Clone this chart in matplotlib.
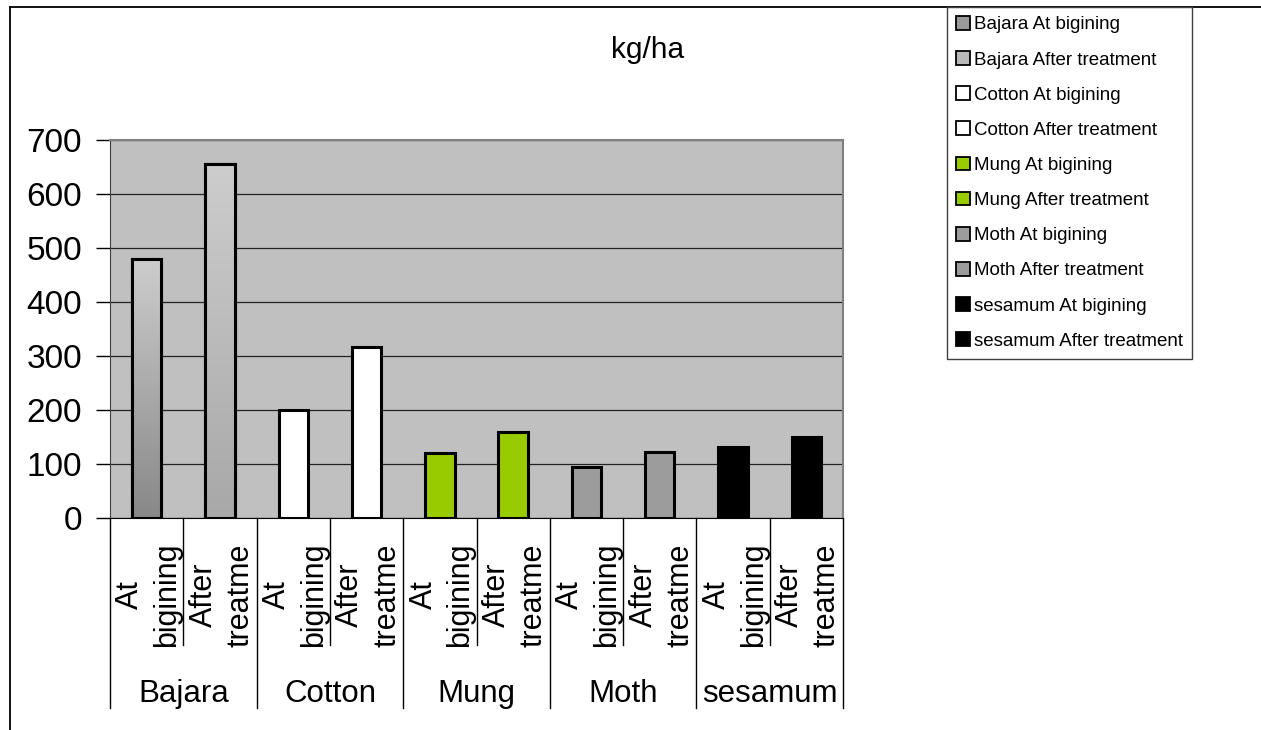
import matplotlib.pyplot as plt
import numpy as np
from matplotlib.lines import Line2D
from matplotlib.patches import Patch
from matplotlib.transforms import blended_transform_factory
from matplotlib.colors import LinearSegmentedColormap

plt.rcParams['font.family'] = ['Liberation Sans', 'DejaVu Sans']

crops = ['Bajara', 'Cotton', 'Mung', 'Moth', 'sesamum']
stages = ['At bigining', 'After treatment']
stage_ticks = ['At\nbigining', 'After\ntreatme']
values = [480, 655, 200, 317, 120, 160, 95, 122, 132, 150]
crop_colors = {'Bajara': ['#9a9a9a', '#b8b8b8'], 'Cotton': ['#ffffff', '#ffffff'],
               'Mung': ['#99cc00', '#99cc00'], 'Moth': ['#9c9c9c', '#9c9c9c'],
               'sesamum': ['#000000', '#000000']}
# vertical gradients for the Bajara bars (top colour, bottom colour)
gradients = {0: ('#cdcdcd', '#888888'), 1: ('#cdcdcd', '#a8a8a8')}

W, H = 1261, 730
fig = plt.figure(figsize=(W / 100, H / 100), dpi=100)
ax = fig.add_axes([110 / W, 1 - 518 / H, 733 / W, 378 / H])
ax.set_facecolor('#c0c0c0')

fs = 22.5
labels, colors = [], []
for c in crops:
    for s_i, s in enumerate(stages):
        labels.append(f'{c} {s}')
        colors.append(crop_colors[c][s_i])

x = np.arange(len(values))
handles = []
for i, v in enumerate(values):
    rect = ax.bar(x[i], v, width=0.4, color=colors[i], edgecolor='black',
                  linewidth=2.2, zorder=3)[0]
    if i in gradients:
        cmap = LinearSegmentedColormap.from_list('g', [gradients[i][1], gradients[i][0]])
        grad = np.linspace(0, 1, 256).reshape(-1, 1)
        im = ax.imshow(grad, extent=[x[i] - 0.2, x[i] + 0.2, 0, v], origin='lower',
                       aspect='auto', cmap=cmap, zorder=3.5)
        im.set_clip_path(rect)
        ax.bar(x[i], v, width=0.4, color='none', edgecolor='black', linewidth=2.2, zorder=4)
    handles.append(Patch(facecolor=colors[i], edgecolor='black', linewidth=1.3))

ax.set_xlim(-0.5, len(values) - 0.5)
ax.set_ylim(0, 700)
ax.set_yticks(range(0, 701, 100))
ax.set_xticks([])
ax.tick_params(axis='y', length=10, width=1, pad=10, labelsize=24, colors='black')
ax.yaxis.grid(True, color='#222222', linewidth=0.9)
ax.set_axisbelow(True)
for side in ['top', 'right']:
    ax.spines[side].set_color('#808080')
    ax.spines[side].set_linewidth(1.5)
ax.spines['left'].set_color('#404040')
ax.spines['bottom'].set_color('black')

# category axis: separators and two-level labels
tr = blended_transform_factory(ax.transData, fig.transFigure)
y_axis = 1 - 518 / H
for b in np.arange(-0.5, len(values), 1.0):
    long_line = int(round(b + 0.5)) % 2 == 0
    y_end = 1 - (708 if long_line else 645) / H
    ax.plot([b, b], [y_axis, y_end], color='black', linewidth=1, transform=tr, clip_on=False)

for i in x:
    ax.text(i + 0.03, 1 - 595 / H, stage_ticks[i % 2], rotation=90, ha='center', va='center',
            multialignment='center', fontsize=22, transform=tr, linespacing=1.3)
for g, c in enumerate(crops):
    ax.text(2 * g + 0.5, 1 - 702 / H, c, ha='center', va='baseline', fontsize=fs, transform=tr)

fig.text(648 / W, 1 - 58 / H, 'kg/ha', ha='center', va='baseline', fontsize=21.5)

leg = fig.legend(handles, labels, loc='upper left', bbox_to_anchor=(947 / W, 1 - 7 / H),
                 borderaxespad=0, fontsize=13.5, handlelength=0.74, handleheight=0.74,
                 handletextpad=0.2, labelspacing=0.95, borderpad=0.48, fancybox=False,
                 framealpha=1, edgecolor='#404040')
leg.get_frame().set_linewidth(1)

# outer chart border (cropped at right and bottom)
fig.add_artist(Line2D([10 / W, 1], [1 - 7 / H, 1 - 7 / H], color='black', linewidth=1.3))
fig.add_artist(Line2D([10 / W, 10 / W], [0, 1 - 7 / H], color='black', linewidth=1.3))

fig.savefig('out.png', dpi=100)
